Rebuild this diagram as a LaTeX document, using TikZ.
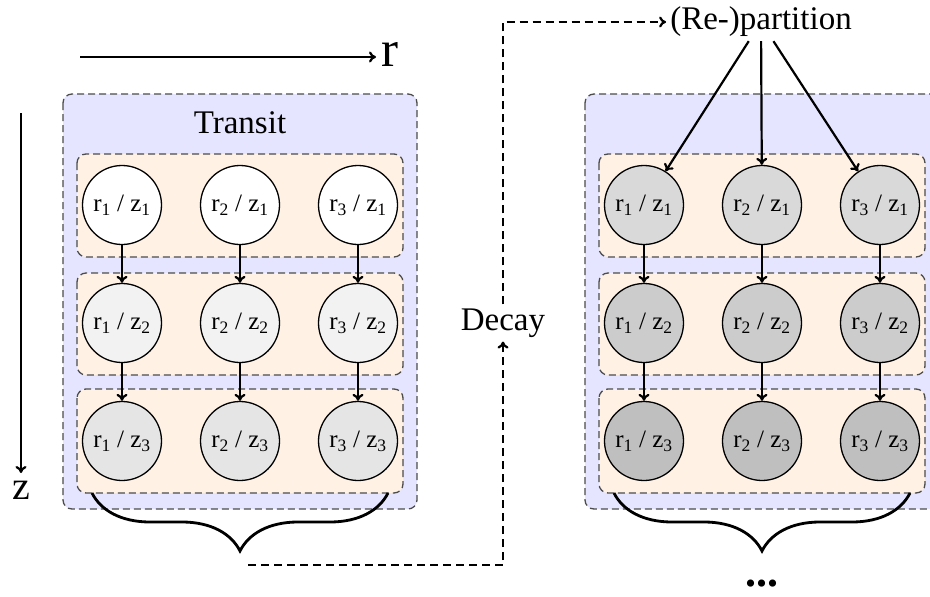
\documentclass[tikz,border=0pt]{standalone}
\usepackage{fontspec}
\setmainfont{Liberation Serif}
\usetikzlibrary{decorations.pathreplacing,arrows.meta}

\tikzset{
  outerbox/.style={draw=black!70, fill=blue!10, dash pattern=on 7pt off 4pt, line width=1.3pt, rounded corners=9pt},
  rowbox/.style={draw=black!70, fill=orange!10, dash pattern=on 7pt off 4pt, line width=1.3pt, rounded corners=9pt},
  cell/.style={circle, draw=black, line width=1.3pt, minimum size=79pt, inner sep=0pt,
    font=\fontsize{25}{28}\selectfont},
  flow/.style={-{To[length=7pt,width=11pt]}, line width=2.2pt},
  link/.style={-{To[length=7pt,width=11pt]}, line width=2.2pt, dash pattern=on 8pt off 5pt},
  bigtext/.style={font=\fontsize{33}{36}\selectfont, inner sep=4pt},
  bracepath/.style={decorate, decoration={brace, mirror, amplitude=58pt}, line width=2.8pt},
}

\begin{document}
\begin{tikzpicture}[x=1pt, y=-1pt]
  \useasboundingbox (0,0) rectangle (930,597);

  % axis arrows
  \coordinate (rs) at (80,57);
  \coordinate (re) at (376,57);
  \draw[flow] (rs) -- (re);
  \node[anchor=west, inner sep=0pt, font=\fontsize{51}{54}\selectfont] (rlab) at (381,54) {r};
  \coordinate (zs) at (21,113);
  \coordinate (ze) at (21,473);
  \draw[flow] (zs) -- (ze);
  \node[inner sep=0pt, font=\fontsize{40}{42}\selectfont] (zlab) at (21,490) {z};

  % the two grids
  \foreach \side/\dx in {L/0, R/522} {
    \draw[outerbox] (63+\dx,94) rectangle (417+\dx,509);
    \draw[rowbox] (77+\dx,154) rectangle (403+\dx,257);
    \draw[rowbox] (77+\dx,273) rectangle (403+\dx,375);
    \draw[rowbox] (77+\dx,389) rectangle (403+\dx,493);
  }

  \node[bigtext] (transit) at (240,123) {Transit};

  % left grid cells
  \foreach \c/\x in {1/122, 2/240, 3/358} {
    \node[cell, fill=white]    (L1\c) at (\x,205) {r\textsubscript{\c} / z\textsubscript{1}};
    \node[cell, fill=black!5]  (L2\c) at (\x,323) {r\textsubscript{\c} / z\textsubscript{2}};
    \node[cell, fill=black!10] (L3\c) at (\x,441) {r\textsubscript{\c} / z\textsubscript{3}};
    \draw[flow] (L1\c) -- (L2\c);
    \draw[flow] (L2\c) -- (L3\c);
  }

  % right grid cells
  \foreach \c/\x in {1/644, 2/762, 3/880} {
    \node[cell, fill=black!15] (R1\c) at (\x,205) {r\textsubscript{\c} / z\textsubscript{1}};
    \node[cell, fill=black!20] (R2\c) at (\x,323) {r\textsubscript{\c} / z\textsubscript{2}};
    \node[cell, fill=black!25] (R3\c) at (\x,441) {r\textsubscript{\c} / z\textsubscript{3}};
    \draw[flow] (R1\c) -- (R2\c);
    \draw[flow] (R2\c) -- (R3\c);
  }

  % braces under the grids
  \coordinate (bLa) at (92,493);
  \coordinate (bLb) at (388,493);
  \draw[bracepath] (bLa) -- (bLb);
  \coordinate (bRa) at (614,493);
  \coordinate (bRb) at (910,493);
  \draw[bracepath] (bRa) -- (bRb);
  \node[font=\bfseries\fontsize{44}{46}\selectfont, inner sep=0pt] (dots) at (762,584) {...};

  % decay / repartition loop
  \node[bigtext] (decay) at (503,323) {Decay};
  \node[bigtext] (part) at (761,22) {(Re-)partition};
  \coordinate (loopstart) at (248,565);
  \draw[link] (loopstart) -| (decay.south);
  \draw[link] (decay.north) |- (part.west);

  \foreach \c in {1,2,3} {
    \draw[flow] (part) -- (R1\c);
  }
\end{tikzpicture}
\end{document}
